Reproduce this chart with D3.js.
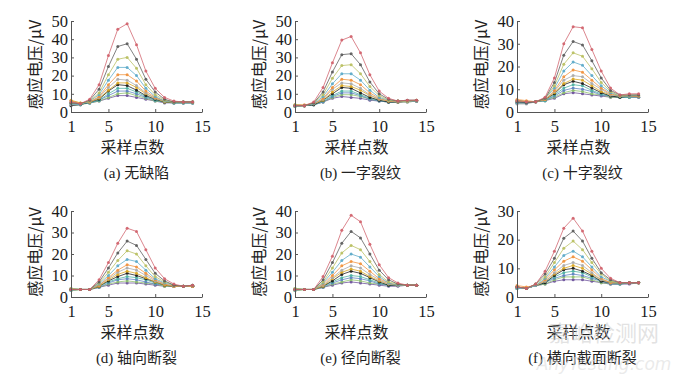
<!DOCTYPE html>
<html><head><meta charset="utf-8">
<script src="https://cdn.jsdelivr.net/npm/d3@7"></script>
<style>
html,body{margin:0;padding:0;background:#fff;}
svg text{font-family:"Liberation Serif","Noto Sans CJK SC",serif;}
</style></head>
<body><svg id="chart" width="680" height="379"></svg>
<script>
const xs = [1,2,3,4,5,6,7,8,9,10,11,12,13,14];
const xTicks = [1,5,10,15];
const seriesColors = ["#d0606a","#5a5a5a","#b8bf5e","#5aa9c8","#f0903a","#a8a8a8","#d9a520","#1a1a1a","#4bb0a0","#5b7fc0","#8cbf6a","#6a4f9a"];
const panelTitles = ["(a) 无缺陷","(b) 一字裂纹","(c) 十字裂纹","(d) 轴向断裂","(e) 径向断裂","(f) 横向截面断裂"];
const yMaxes = [50,50,40,40,40,30];
const xLabel = "采样点数";
const yLabel = "感应电压/μV";

const panelA = [
[5.5,4.5,7,15,31,45.5,48.5,37,22.5,13,8,6,5.5,5.5],
[5,4.5,6.5,12.5,25,36,37.5,29,18,11,7,5.5,5.5,5.5],
[5,4.5,6,10.5,20.5,29,30,24,15,9.5,6.5,5.5,5.5,5.5],
[4.5,4,6,9.5,17.5,24.5,24.5,20,13,8.5,6,5.5,5.5,5.5],
[6,5,5.5,8.5,15,20.5,20.5,17,11.5,8,6,5.5,5.5,5.5],
[4,4.5,5.5,8,13.5,18,17.5,14.5,10.5,7.5,6,5.5,5.5,5.5],
[6.5,5,5.5,7.5,12,16,16,13.5,10,7.5,5.5,5.5,5.5,5.5],
[3.5,4,5.5,7,11.5,15,14.5,12,9,7,5.5,5.5,5.5,5.5],
[5,4.5,5,6.5,10,13,13,11,8.5,6.5,5.5,5,5,5],
[6,4.5,5,6.5,9,11.5,11.5,10,8,6.5,5.5,5,5,5],
[4,4,5,6,8,10,10.5,9,7.5,6,5.5,5,5,5],
[5,4.5,5,6,7.5,9,9,8,7,6,5,5,5,5]];

const panelB = [
[3.5,3.5,5.5,13.5,27,39.5,41.5,32.5,20.5,11.5,7.5,6,6.5,6.5],
[3.5,3.5,5,11,22,31.5,32,26,16.5,10,7,6,6.5,6.5],
[4,3.5,5,9.5,18.5,25.5,26,21,14,9,6.5,6,6,6.5],
[3,3.5,4.5,8.5,15.5,21,21,17.5,12,8,6.5,6,6,6],
[4,4,4.5,7.5,13.5,18,17.5,15,10.5,7.5,6,6,6,6.5],
[3.5,3.5,4.5,7,12.5,16,15.5,13,9.5,7,6,5.5,6,6],
[3,3.5,4.5,6.5,11,14.5,14,12,9,7,6,5.5,6,6],
[3.5,3.5,4,6.5,10,13.5,13,10.5,8,6.5,5.5,5.5,6,6],
[4,3.5,4,6,9,11.5,11.5,9.5,7.5,6.5,5.5,5.5,6,6],
[3.5,3.5,4,5.5,8.5,10.5,10.5,9,7,6,5.5,5.5,6,6],
[3,3.5,4,5.5,8,9.5,9.5,8.5,7,6,5.5,5.5,5.5,6],
[3.5,3.5,4,5.5,7.5,8.5,8,7.5,6.5,6,5.5,5.5,5.5,6]];

const panelC = [
[5,4.5,4.5,6.5,15,30,37.5,37,27.5,18,10.5,7.5,8,8],
[4.5,4,4.5,6,13,25,31,29.5,22.5,15,9.5,7.5,7.5,7.5],
[5,4.5,4.5,6,11.5,21,26,24.5,19,13,9,7,7.5,7.5],
[4,4,4.5,6,10.5,18,22,20.5,16,11.5,8.5,7,7,7.5],
[5.5,5,4.5,5.5,9.5,15.5,18.5,17.5,14,10.5,8,7,7,7],
[3.5,3.5,4.5,5.5,9,14,16,15.5,12.5,10,7.5,7,7,7],
[5,4.5,4.5,5.5,8.5,12.5,14.5,14,11.5,9,7.5,7,7,7],
[4,4,4.5,5.5,8,12,13.5,12.5,10.5,8.5,7,6.5,7,7],
[5,4.5,4.5,5,7.5,10.5,12,11.5,9.5,8,7,6.5,6.5,7],
[4.5,4,4.5,5,7,9.5,10.5,10,9,7.5,7,6.5,6.5,6.5],
[4,4,4.5,5,6.5,8.5,9.5,9,8,7.5,6.5,6.5,6.5,6.5],
[5,4.5,4.5,5,6,8,8.5,8,7.5,7,6.5,6.5,6.5,6.5]];

const panelD = [
[3.5,3.5,3.5,8,16,25,32,30.5,22,13.5,8.5,6,5,5.5],
[3.5,3.5,3.5,7,13.5,20.5,26,24,17.5,11,7.5,5.5,5,5.5],
[4,3.5,3.5,6.5,11.5,17,21.5,20,14.5,9.5,7,5.5,5,5.5],
[3,3.5,3.5,6,10,14.5,17.5,16.5,12.5,8.5,6.5,5.5,5,5.5],
[3.5,3.5,3.5,5.5,9,12.5,15,14,11,8,6,5,5,5],
[4,3.5,3.5,5.5,8.5,11.5,13.5,12.5,10,7.5,6,5,5,5],
[3,3.5,3.5,5,8,10.5,12,11,9,7,5.5,5,5,5],
[3.5,3.5,3.5,5,7.5,9.5,11,10,8.5,7,5.5,5,5,5],
[4,3.5,3.5,5,7,8.5,9.5,9,8,6.5,5.5,5,5,5],
[3.5,3.5,3.5,4.5,6.5,8,8.5,8,7,6,5.5,5,5,5],
[3,3.5,3.5,4.5,6,7,7.5,7,6.5,6,5,5,5,5],
[3.5,3.5,3.5,4.5,5.5,6.5,6.5,6.5,6,5.5,5,5,5,5]];

const panelE = [
[3.5,3.5,3.5,9.5,19,31,38,35,24.5,15,9,6.5,5.5,5.5],
[3.5,3.5,3.5,8,16,25,30.5,27.5,20,12.5,8,6,5.5,5.5],
[4,3.5,3.5,7,13.5,20.5,24,22,16.5,10.5,7,6,5.5,5.5],
[3,3.5,3.5,6.5,11.5,17,20,18.5,14,9.5,6.5,5.5,5.5,5.5],
[3.5,3.5,3.5,6,10,14.5,16.5,15.5,12,8.5,6.5,5.5,5.5,5.5],
[4,3.5,3.5,5.5,9,12.5,14.5,13.5,10.5,8,6,5.5,5.5,5.5],
[3,3.5,3.5,5,8.5,11.5,13,12,9.5,7.5,6,5.5,5.5,5.5],
[3.5,3.5,3.5,5,7.5,10.5,12,11,9,7,5.5,5.5,5.5,5.5],
[4,3.5,3.5,5,7,9,10,9.5,8,6.5,5.5,5.5,5.5,5.5],
[3.5,3.5,3.5,4.5,6.5,8,9,8.5,7.5,6,5.5,5.5,5.5,5.5],
[3,3.5,3.5,4.5,6,7,8,7.5,6.5,6,5.5,5.5,5.5,5.5],
[3.5,3.5,3.5,4.5,5.5,6.5,7,6.5,6,5.5,5,5,5.5,5.5]];

const panelF = [
[3.5,3,4.5,9,16,24,27.5,23,16,10,6.5,5,5,5],
[3.5,3,4.5,8,13.5,20.5,23,19.5,13.5,8.5,6,5,5,5],
[3.5,3,4.5,7,12,17,19.5,16.5,12,8,5.5,5,5,5],
[3,3,4,6.5,10.5,14.5,16,14,10.5,7,5.5,5,5,5],
[4,3.5,4,6,9.5,12.5,14,12.5,9.5,6.5,5,5,5,5],
[3,3,4,5.5,8.5,11,12,11,8.5,6,5,5,5,5],
[3.5,3,4,5.5,8,10,11,10,8,6,5,5,5,5],
[3.5,3,4,5,7.5,9.5,10,9,7.5,5.5,5,5,5,5],
[3,3,4,5,7,8.5,9,8.5,7,5.5,5,4.5,5,5],
[3.5,3,4,5,6.5,7.5,8,7.5,6.5,5.5,4.5,4.5,5,5],
[3,3,4,4.5,6,7,7,7,6,5,4.5,4.5,5,5],
[3.5,3,4,4.5,5.5,6,6,6,5.5,5,4.5,4.5,4.5,5]];

const panels = [panelA,panelB,panelC,panelD,panelE,panelF];

const svg = d3.select("#chart");
const colX = [71, 295, 517];
const plotW = 131;
const rowTop = [21, 211];
const rowBot = [112, 297];

panels.forEach((data, i) => {
  const col = i % 3, row = Math.floor(i / 3);
  const x0 = colX[col];
  const x = d3.scaleLinear().domain([1,15]).range([x0, x0 + plotW]);
  const y = d3.scaleLinear().domain([0, yMaxes[i]]).range([rowBot[row], rowTop[row]]);
  const g = svg.append("g");

  const line = d3.line().x((d,k)=>x(xs[k])).y(d=>y(d));
  for (let s = data.length - 1; s >= 0; s--) {
    g.append("path").datum(data[s])
      .attr("fill","none").attr("stroke",seriesColors[s])
      .attr("stroke-width",0.9).attr("stroke-opacity",0.85)
      .attr("d",line);
    g.selectAll(null).data(data[s]).enter().append("circle")
      .attr("cx",(d,k)=>x(xs[k])).attr("cy",d=>y(d))
      .attr("r",1.5).attr("fill",seriesColors[s]).attr("fill-opacity",0.9);
  }

  const ax = g.append("g").attr("transform",`translate(0,${rowBot[row]})`)
    .call(d3.axisBottom(x).tickValues(xTicks).tickSizeInner(-3).tickSizeOuter(0).tickPadding(8));
  const ay = g.append("g").attr("transform",`translate(${x0},0)`)
    .call(d3.axisLeft(y).tickValues(d3.range(0, yMaxes[i]+1, 10)).tickSizeInner(-3).tickSizeOuter(0).tickPadding(3));
  [ax, ay].forEach(a => {
    a.selectAll("path,line").attr("stroke","#555").attr("stroke-width",1);
    a.selectAll("text").attr("fill","#1a1a1a").style("font-size","16.5px")
      .style("font-family","'Liberation Serif',serif");
  });

  const cx = x0 + plotW / 2;
  g.append("text").attr("x", cx - 4).attr("y", rowBot[row] + 41)
    .attr("text-anchor","middle").attr("fill","#222")
    .style("font-size","16px").style("font-family","'Noto Sans CJK SC',sans-serif")
    .text(xLabel);
  g.append("text").attr("x", cx).attr("y", rowBot[row] + 66)
    .attr("text-anchor","middle").attr("fill","#222")
    .style("font-size","15px")
    .text(panelTitles[i]);
  const ly = (rowTop[row] + rowBot[row]) / 2 - 2;
  g.append("text").attr("transform",`translate(${x0 - 30},${ly}) rotate(-90)`)
    .attr("text-anchor","middle").attr("fill","#222")
    .style("font-size","16px").style("font-family","'Noto Sans CJK SC',sans-serif")
    .text(yLabel);
});

// watermark (semi-transparent, overlaps the panel labels as in the reference)
svg.append("text").attr("x",604).attr("y",341).attr("text-anchor","middle")
  .attr("fill","#cfcfcf").attr("fill-opacity",0.6)
  .style("font-size","22px").style("font-family","'Noto Sans CJK SC',sans-serif")
  .text("嘉峪检测网");
svg.append("text").attr("x",604).attr("y",370).attr("text-anchor","middle")
  .attr("fill","#dcdcdc").attr("fill-opacity",0.6)
  .style("font-size","17px").style("font-style","italic").style("font-family","'DejaVu Sans',sans-serif")
  .text("AnyTesting.com");
</script></body></html>
